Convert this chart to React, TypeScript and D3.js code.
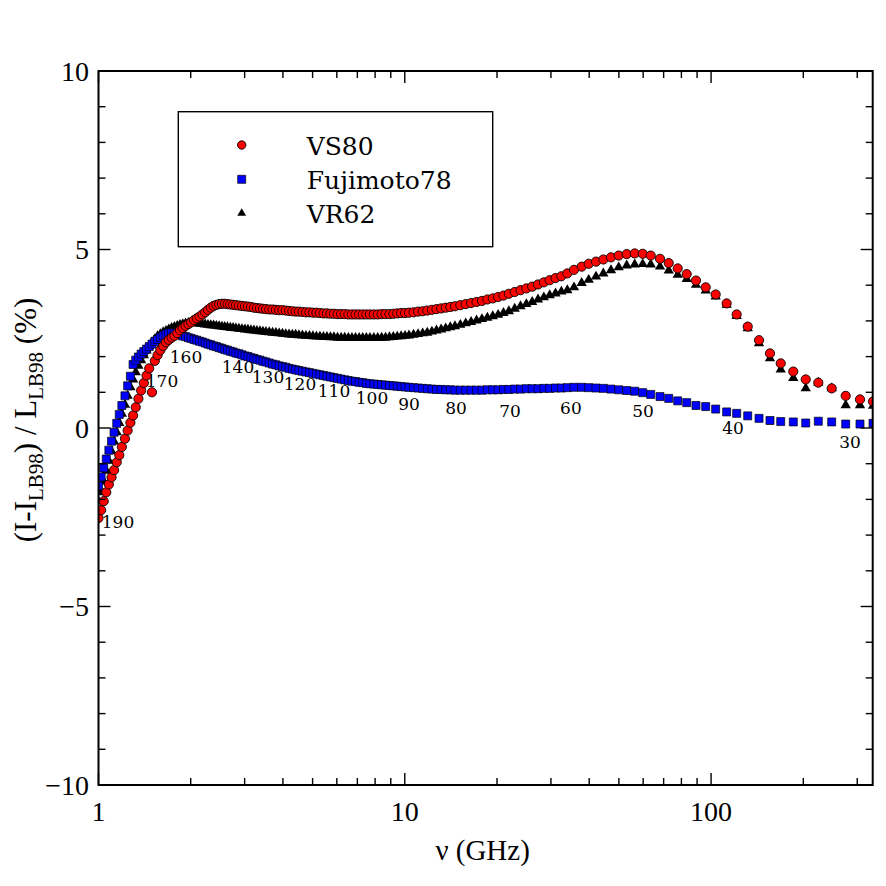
import { useEffect, useRef } from 'react';
import * as d3 from 'd3';

// frequency of every computed point (GHz), one per temperature step
const freqGHz = [
  1.000, 1.020, 1.040, 1.060, 1.081, 1.103, 1.124, 1.147, 1.169, 1.192,
  1.220, 1.245, 1.271, 1.297, 1.323, 1.350, 1.378, 1.406, 1.435, 1.464,
  1.495, 1.527, 1.559, 1.592, 1.626, 1.661, 1.696, 1.732, 1.769, 1.807,
  1.845, 1.884, 1.924, 1.965, 2.007, 2.050, 2.094, 2.138, 2.184, 2.230,
  2.277, 2.325, 2.375, 2.425, 2.477, 2.530, 2.583, 2.638, 2.694, 2.752,
  2.810, 2.874, 2.940, 3.007, 3.075, 3.145, 3.217, 3.290, 3.365, 3.442,
  3.521, 3.609, 3.700, 3.793, 3.888, 3.986, 4.086, 4.189, 4.294, 4.402,
  4.512, 4.632, 4.756, 4.883, 5.013, 5.146, 5.284, 5.425, 5.569, 5.718,
  5.870, 6.031, 6.196, 6.366, 6.541, 6.720, 6.905, 7.094, 7.289, 7.489,
  7.694, 7.923, 8.159, 8.401, 8.651, 8.909, 9.174, 9.447, 9.728, 10.02,
  10.32, 10.68, 11.05, 11.44, 11.84, 12.26, 12.69, 13.14, 13.60, 14.08,
  14.58, 15.18, 15.81, 16.46, 17.15, 17.86, 18.60, 19.37, 20.17, 21.00,
  21.87, 22.85, 23.87, 24.94, 26.06, 27.22, 28.44, 29.72, 31.05, 32.44,
  33.93, 35.68, 37.80, 39.85, 42.10, 44.48, 47.12, 49.93, 53.03, 56.31,
  59.80, 63.52, 68.11, 72.72, 77.80, 83.25, 89.27, 96.03, 103.5, 112.4,
  121.2, 131.7, 143.4, 155.7, 168.8, 185.5, 203.7, 223.9, 247.6, 275.1, 306.3, 337.8
];

const vs80 = [
  -2.52, -2.30, -2.05, -1.80, -1.58, -1.38, -1.18, -0.96, -0.76, -0.53,
  -0.30, -0.07, 0.15, 0.35, 0.58, 0.82, 1.05, 1.26, 1.47, 1.67,
  1.00, 1.88, 2.04, 2.18, 2.30, 2.40, 2.47, 2.53, 2.58, 2.66,
  2.74, 2.80, 2.86, 2.91, 2.96, 3.02, 3.07, 3.12, 3.18, 3.24,
  3.31, 3.37, 3.42, 3.45, 3.47, 3.48, 3.48, 3.47, 3.46, 3.45,
  3.44, 3.43, 3.42, 3.41, 3.40, 3.39, 3.37, 3.36, 3.35, 3.34,
  3.33, 3.32, 3.32, 3.31, 3.30, 3.30, 3.29, 3.28, 3.27, 3.26,
  3.26, 3.25, 3.24, 3.24, 3.23, 3.23, 3.22, 3.21, 3.21, 3.20,
  3.20, 3.19, 3.19, 3.19, 3.18, 3.18, 3.18, 3.18, 3.18, 3.18,
  3.18, 3.18, 3.18, 3.19, 3.19, 3.19, 3.20, 3.21, 3.22, 3.22,
  3.23, 3.24, 3.26, 3.27, 3.29, 3.31, 3.33, 3.35, 3.37, 3.39,
  3.41, 3.44, 3.47, 3.50, 3.53, 3.56, 3.60, 3.63, 3.67, 3.71,
  3.76, 3.81, 3.86, 3.91, 3.96, 4.02, 4.08, 4.14, 4.20, 4.25,
  4.33, 4.43, 4.52, 4.60, 4.66, 4.72, 4.78, 4.83, 4.87, 4.89,
  4.88, 4.83, 4.74, 4.62, 4.47, 4.31, 4.13, 3.94, 3.74, 3.49,
  3.18, 2.84, 2.46, 2.09, 1.81, 1.58, 1.36, 1.27, 1.11, 0.90, 0.80, 0.74
];

const fujimoto78 = [
  -1.62, -1.37, -1.12, -0.87, -0.62, -0.37, -0.12, 0.13, 0.38, 0.63,
  0.90, 1.18, 1.45, 1.78, 1.90, 1.99, 2.07, 2.14, 2.21, 2.28,
  2.35, 2.42, 2.48, 2.54, 2.59, 2.63, 2.66, 2.67, 2.66, 2.64,
  2.61, 2.58, 2.56, 2.53, 2.51, 2.48, 2.46, 2.43, 2.41, 2.38,
  2.35, 2.33, 2.30, 2.28, 2.25, 2.23, 2.20, 2.18, 2.15, 2.13,
  2.10, 2.08, 2.05, 2.02, 2.00, 1.97, 1.95, 1.92, 1.90, 1.87,
  1.85, 1.82, 1.79, 1.77, 1.74, 1.72, 1.70, 1.67, 1.65, 1.63,
  1.61, 1.59, 1.57, 1.55, 1.53, 1.51, 1.49, 1.47, 1.45, 1.43,
  1.41, 1.39, 1.37, 1.35, 1.33, 1.31, 1.30, 1.28, 1.27, 1.25,
  1.24, 1.23, 1.22, 1.21, 1.20, 1.19, 1.18, 1.17, 1.16, 1.15,
  1.14, 1.13, 1.12, 1.11, 1.10, 1.09, 1.08, 1.08, 1.07, 1.07,
  1.06, 1.06, 1.06, 1.06, 1.06, 1.06, 1.07, 1.07, 1.07, 1.08,
  1.08, 1.09, 1.09, 1.10, 1.10, 1.10, 1.11, 1.11, 1.12, 1.12,
  1.13, 1.14, 1.14, 1.13, 1.12, 1.11, 1.09, 1.07, 1.05, 1.03,
  0.99, 0.94, 0.88, 0.83, 0.76, 0.71, 0.63, 0.60, 0.53, 0.45,
  0.41, 0.34, 0.27, 0.21, 0.18, 0.17, 0.14, 0.19, 0.17, 0.11, 0.11, 0.13
];

const vr62 = [
  -2.05, -1.80, -1.50, -1.20, -0.92, -0.65, -0.38, -0.12, 0.14, 0.40,
  0.65, 0.90, 1.14, 1.36, 1.56, 1.74, 1.90, 2.04, 2.17, 2.29,
  2.40, 2.49, 2.57, 2.63, 2.68, 2.72, 2.76, 2.80, 2.83, 2.86,
  2.89, 2.91, 2.93, 2.94, 2.95, 2.94, 2.93, 2.92, 2.91, 2.90,
  2.89, 2.88, 2.87, 2.86, 2.85, 2.84, 2.83, 2.82, 2.81, 2.80,
  2.79, 2.78, 2.77, 2.76, 2.75, 2.74, 2.73, 2.72, 2.71, 2.70,
  2.69, 2.68, 2.67, 2.66, 2.65, 2.64, 2.63, 2.62, 2.61, 2.61,
  2.60, 2.59, 2.58, 2.58, 2.57, 2.56, 2.56, 2.55, 2.55, 2.54,
  2.54, 2.53, 2.53, 2.53, 2.52, 2.52, 2.52, 2.52, 2.52, 2.52,
  2.52, 2.52, 2.52, 2.53, 2.53, 2.54, 2.55, 2.56, 2.57, 2.58,
  2.59, 2.61, 2.63, 2.65, 2.67, 2.70, 2.73, 2.76, 2.79, 2.82,
  2.85, 2.89, 2.93, 2.97, 3.01, 3.05, 3.09, 3.13, 3.17, 3.22,
  3.27, 3.34, 3.41, 3.47, 3.53, 3.60, 3.66, 3.72, 3.77, 3.82,
  3.86, 3.94, 4.06, 4.15, 4.24, 4.33, 4.42, 4.50, 4.55, 4.58,
  4.59, 4.58, 4.52, 4.41, 4.29, 4.17, 4.01, 3.85, 3.68, 3.45,
  3.14, 2.79, 2.37, 1.95, 1.64, 1.40, 1.11, 1.27, 1.11, 0.64, 0.64, 0.62
];

// temperature labels written along the curves
const annotLabels = ['190', '170', '160', '140', '130', '120', '110', '100', '90', '80', '70', '60', '50', '40', '30'];
const annotFreq = [1.158, 1.612, 1.931, 2.854, 3.576, 4.549, 5.873, 7.815, 10.32, 14.69, 22.05, 34.86, 59.93, 117.9, 284.1];
const annotValue = [-2.80, 1.16, 1.82, 1.54, 1.26, 1.06, 0.87, 0.66, 0.50, 0.38, 0.32, 0.38, 0.32, -0.18, -0.56];

const seriesNames = ['VS80', 'Fujimoto78', 'VR62'];
const yTickValues = [-10, -5, 0, 5, 10];
const xTickLabels = ['1', '10', '100'];

export default function App() {
  const svgRef = useRef<SVGSVGElement>(null);

  useEffect(() => {
    if (!svgRef.current) return;
    const svg = d3.select(svgRef.current);
    svg.selectAll('*').remove();

    const left = 98.5, right = 872.7, top = 71, bottom = 785;
    const x = d3.scaleLog().domain([1, 337]).range([left, right]);
    const y = d3.scaleLinear().domain([-10, 10]).range([bottom, top]);

    svg.append('rect').attr('width', 886).attr('height', 886).attr('fill', '#fff');

    svg.append('defs').append('clipPath').attr('id', 'plot-clip')
      .append('rect')
      .attr('x', left).attr('y', top)
      .attr('width', right - left).attr('height', bottom - top);

    const serif = '"Liberation Serif", "Times New Roman", serif';
    const dejavu = '"DejaVu Serif", serif';

    // annotations sit under the markers
    const ann = svg.append('g').attr('clip-path', 'url(#plot-clip)');
    ann.selectAll('text')
      .data(annotLabels)
      .enter()
      .append('text')
      .attr('x', (d, i) => x(annotFreq[i]))
      .attr('y', (d, i) => y(annotValue[i]))
      .attr('text-anchor', 'middle')
      .style('font-family', dejavu)
      .style('font-size', '17px')
      .text(d => d);

    const pts = freqGHz.map((f, i) => ({ f, a: vs80[i], b: fujimoto78[i], c: vr62[i] }));
    const g = svg.append('g').attr('clip-path', 'url(#plot-clip)');

    const tri = d3.symbol().type(d3.symbolTriangle).size(46);
    const sq = d3.symbol().type(d3.symbolSquare).size(64);

    // VR62 triangles (bottom)
    g.append('g').selectAll('path')
      .data(pts)
      .enter()
      .append('path')
      .attr('d', tri)
      .attr('transform', d => `translate(${x(d.f)},${y(d.c)})`)
      .attr('fill', '#000');

    // Fujimoto78 squares
    g.append('g').selectAll('path')
      .data(pts)
      .enter()
      .append('path')
      .attr('d', sq)
      .attr('transform', d => `translate(${x(d.f)},${y(d.b)})`)
      .attr('fill', '#0000ff')
      .attr('stroke', '#000')
      .attr('stroke-width', 0.7);

    // VS80 circles (top)
    g.append('g').selectAll('circle')
      .data(pts)
      .enter()
      .append('circle')
      .attr('cx', d => x(d.f))
      .attr('cy', d => y(d.a))
      .attr('r', 4.6)
      .attr('fill', '#ff0000')
      .attr('stroke', '#000')
      .attr('stroke-width', 0.9);

    // ticks on all four sides, pointing inward
    const ax = svg.append('g').attr('stroke', '#000').attr('stroke-width', 1.4);
    const xt = x.ticks();
    xt.forEach(t => {
      const major = Math.abs(Math.log10(t) - Math.round(Math.log10(t))) < 1e-9;
      const len = major ? 12 : 7;
      ax.append('line').attr('x1', x(t)).attr('x2', x(t)).attr('y1', bottom).attr('y2', bottom - len);
      ax.append('line').attr('x1', x(t)).attr('x2', x(t)).attr('y1', top).attr('y2', top + len);
    });
    y.ticks(20).forEach(t => {
      const len = t % 5 === 0 ? 12 : 7;
      ax.append('line').attr('y1', y(t)).attr('y2', y(t)).attr('x1', left).attr('x2', left + len);
      ax.append('line').attr('y1', y(t)).attr('y2', y(t)).attr('x1', right).attr('x2', right - len);
    });

    svg.append('rect')
      .attr('x', left).attr('y', top)
      .attr('width', right - left).attr('height', bottom - top)
      .attr('fill', 'none').attr('stroke', '#000').attr('stroke-width', 2);

    // tick labels
    svg.append('g').selectAll('text')
      .data(yTickValues)
      .enter()
      .append('text')
      .attr('x', 89)
      .attr('y', d => y(d) + 9.5)
      .attr('text-anchor', 'end')
      .style('font-family', serif)
      .style('font-size', '28px')
      .text(d => (d < 0 ? '\u2212' + Math.abs(d) : String(d)));

    svg.append('g').selectAll('text')
      .data(xTickLabels)
      .enter()
      .append('text')
      .attr('x', d => x(+d))
      .attr('y', 821)
      .attr('text-anchor', 'middle')
      .style('font-family', serif)
      .style('font-size', '28px')
      .text(d => d);

    // axis titles
    svg.append('text')
      .attr('x', (left + right) / 2 - 3)
      .attr('y', 860)
      .attr('text-anchor', 'middle')
      .style('font-family', serif)
      .style('font-size', '29px')
      .text('\u03bd (GHz)');

    const yl = svg.append('text')
      .attr('transform', 'translate(36,420) rotate(-90)')
      .attr('text-anchor', 'middle')
      .style('font-family', serif)
      .style('font-size', '31px');
    yl.append('tspan').text('(I-I');
    yl.append('tspan').attr('dy', 7).style('font-size', '21px').text('LB98');
    yl.append('tspan').attr('dy', -7).text(') / L');
    yl.append('tspan').attr('dy', 7).style('font-size', '21px').text('LB98');
    yl.append('tspan').attr('dy', -7).text(' (%)');

    // legend
    const lg = svg.append('g');
    lg.append('rect')
      .attr('x', 178.3).attr('y', 111.7)
      .attr('width', 314.4).attr('height', 135)
      .attr('fill', '#fff').attr('stroke', '#000').attr('stroke-width', 1.4);
    const rows = [145, 179.3, 213.3];
    lg.append('circle').attr('cx', 241.7).attr('cy', rows[0]).attr('r', 4.2)
      .attr('fill', '#ff0000').attr('stroke', '#000').attr('stroke-width', 0.9);
    lg.append('path').attr('d', sq).attr('transform', `translate(241.7,${rows[1]})`)
      .attr('fill', '#0000ff').attr('stroke', '#000').attr('stroke-width', 0.7);
    lg.append('path').attr('d', d3.symbol().type(d3.symbolTriangle).size(34))
      .attr('transform', `translate(241.7,${rows[2]})`).attr('fill', '#000');
    lg.selectAll('text.lbl')
      .data(seriesNames)
      .enter()
      .append('text')
      .attr('class', 'lbl')
      .attr('x', 306.7)
      .attr('y', (d, i) => rows[i] + 9.5)
      .style('font-family', dejavu)
      .style('font-size', '25px')
      .text(d => d);
  }, []);

  return (
    <svg
      ref={svgRef}
      width={886}
      height={886}
      style={{ position: 'absolute', left: 0, top: 0, display: 'block' }}
    />
  );
}
